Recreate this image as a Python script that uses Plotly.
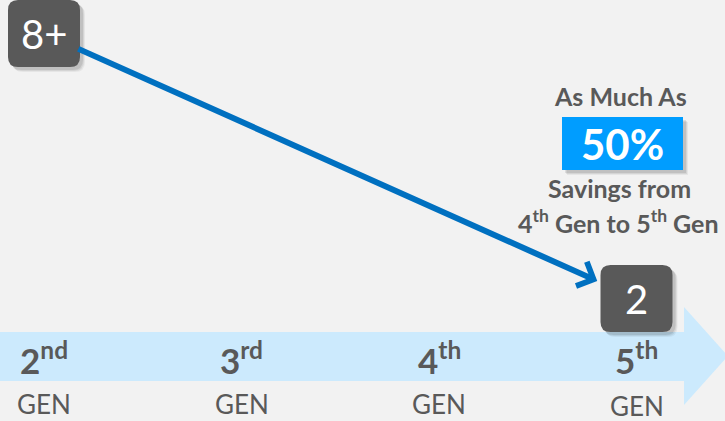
import plotly.graph_objects as go

# ---- data ----
generations = ["2nd", "3rd", "4th", "5th"]
gen_number = ["2", "3", "4", "5"]
gen_suffix = ["nd", "rd", "th", "th"]
gen_caption = "GEN"

count_gen_index = [0, 3]      # 2nd gen -> 5th gen
count_values = [8, 2]
count_labels = ["8+", "2"]

savings_percent = 50
savings_lines = ["As Much As", "Savings from", "4<sup>th</sup> Gen to 5<sup>th</sup> Gen"]

# ---- canvas and scales ----
W, H = 725, 421
BG = "#F2F2F2"
GRAY = "#595959"
FONT = "Lato"

X0_PX, X_STEP_PX = 44.0, 197.5           # pixel of gen index 0, pixels per gen step
TOP_PX, PX_PER_UNIT = 33.5, 44.17        # pixel of the top value, pixels per unit
top_val = max(count_values)
x_range = [-X0_PX / X_STEP_PX, (W - X0_PX) / X_STEP_PX]
y_range = [top_val - (H - TOP_PX) / PX_PER_UNIT, top_val + TOP_PX / PX_PER_UNIT]


def py(px_y):
    """pixel row -> paper y"""
    return 1 - px_y / H


def px(px_x):
    """pixel column -> paper x"""
    return px_x / W


def rounded_rect(cx, cy, w_px, h_px, r_px, dx_px=0.0, dy_px=0.0):
    sx, sy = 1 / X_STEP_PX, 1 / PX_PER_UNIT
    cx = cx + dx_px * sx
    cy = cy - dy_px * sy
    hw, hh = w_px / 2 * sx, h_px / 2 * sy
    rx, ry = r_px * sx, r_px * sy
    x0, x1, y0, y1 = cx - hw, cx + hw, cy - hh, cy + hh
    return (f"M{x0 + rx},{y1} L{x1 - rx},{y1} Q{x1},{y1} {x1},{y1 - ry} "
            f"L{x1},{y0 + ry} Q{x1},{y0} {x1 - rx},{y0} L{x0 + rx},{y0} "
            f"Q{x0},{y0} {x0},{y0 + ry} L{x0},{y1 - ry} Q{x0},{y1} {x0 + rx},{y1} Z")


shapes = []
annotations = []

# timeline band with arrow head
band = (f"M0,{py(332)} L{px(684)},{py(332)} L{px(684)},{py(307)} "
        f"L{px(728)},{py(356)} L{px(684)},{py(405)} L{px(684)},{py(381)} "
        f"L0,{py(381)} Z")
shapes.append(dict(type="path", path=band, xref="paper", yref="paper",
                   fillcolor="#CCEAFD", line=dict(width=0), layer="below"))

# generation labels
for i, (num, suf) in enumerate(zip(gen_number, gen_suffix)):
    annotations.append(dict(x=i, y=py(358), xref="x", yref="paper",
                            text=f"<b>{num}<sup>{suf}</sup></b>", showarrow=False,
                            font=dict(family=FONT, size=35, color=GRAY),
                            xanchor="center", yanchor="middle"))
    annotations.append(dict(x=i, y=py(404 + (2 if i == 3 else 0)), xref="x", yref="paper",
                            text=gen_caption, showarrow=False,
                            font=dict(family=FONT, size=26, color=GRAY),
                            xanchor="center", yanchor="middle"))

# connecting arrow
annotations.append(dict(x=count_gen_index[1], y=count_values[1],
                        ax=count_gen_index[0], ay=count_values[0],
                        xref="x", yref="y", axref="x", ayref="y",
                        text="", showarrow=True, arrowhead=4, arrowsize=0.85,
                        arrowwidth=6, arrowcolor="#0070C0",
                        standoff=43, startstandoff=36))

# count boxes with soft shadow
for gi, val, lab in zip(count_gen_index, count_values, count_labels):
    for k, a in ((5, 0.05), (4, 0.07), (3, 0.09)):
        shapes.append(dict(type="path", xref="x", yref="y",
                           path=rounded_rect(gi, val, 72, 67, 10, k, k),
                           fillcolor=f"rgba(0,0,0,{a})", line=dict(width=0)))
    shapes.append(dict(type="path", xref="x", yref="y",
                       path=rounded_rect(gi, val, 72, 67, 10),
                       fillcolor=GRAY, line=dict(width=0)))
    annotations.append(dict(x=gi, y=val, xref="x", yref="y", text=lab,
                            showarrow=False, xanchor="center", yanchor="middle",
                            font=dict(family=FONT, size=40, color="white")))

# savings callout
for k, a in ((5, 0.05), (4, 0.07), (3, 0.09)):
    shapes.append(dict(type="rect", xref="paper", yref="paper",
                       x0=px(562 + k), x1=px(683 + k), y0=py(170 + k), y1=py(117 + k),
                       fillcolor=f"rgba(0,0,0,{a})", line=dict(width=0)))
shapes.append(dict(type="rect", xref="paper", yref="paper",
                   x0=px(562), x1=px(683), y0=py(170), y1=py(117),
                   fillcolor="#009DFF", line=dict(width=0)))
annotations.append(dict(x=px(622.5), y=py(143.5), xref="paper", yref="paper",
                        text=f"<b>{savings_percent}%</b>", showarrow=False,
                        xanchor="center", yanchor="middle",
                        font=dict(family=FONT, size=42, color="white")))
for text, yc, xc in zip(savings_lines, [96, 188, 221], [620, 619, 618]):
    annotations.append(dict(x=px(xc), y=py(yc), xref="paper", yref="paper",
                            text=f"<b>{text}</b>", showarrow=False,
                            xanchor="center", yanchor="middle",
                            font=dict(family=FONT, size=25, color=GRAY)))

fig = go.Figure()
fig.add_trace(go.Scatter(x=count_gen_index, y=count_values, mode="markers",
                         marker=dict(opacity=0), hoverinfo="skip"))
fig.update_layout(
    width=W, height=H, margin=dict(l=0, r=0, t=0, b=0),
    paper_bgcolor=BG, plot_bgcolor=BG, showlegend=False,
    xaxis=dict(range=x_range, visible=False, fixedrange=True),
    yaxis=dict(range=y_range, visible=False, fixedrange=True),
    shapes=shapes, annotations=annotations,
)
fig.write_html("out.html")
